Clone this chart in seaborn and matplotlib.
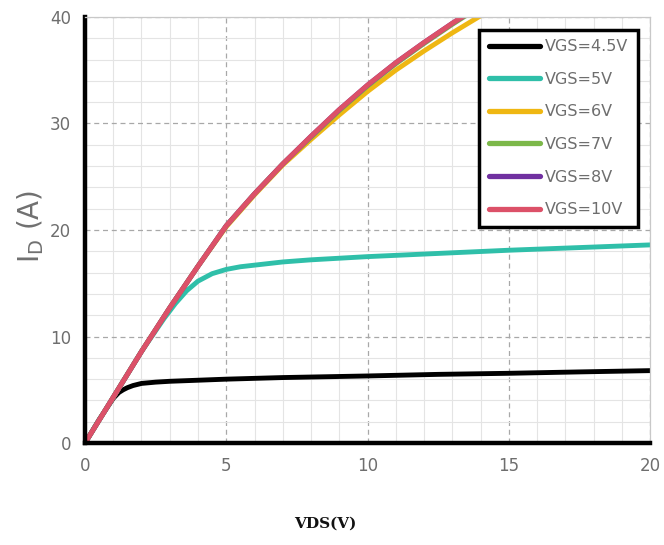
import numpy as np
import pandas as pd
import matplotlib
matplotlib.use("Agg")
import matplotlib.pyplot as plt
from matplotlib.ticker import MultipleLocator
import seaborn as sns

# Output characteristics: drain current vs drain-source voltage
vds_45 = [0, 0.5, 1.0, 1.2, 1.35, 1.5, 1.7, 2.0, 2.5, 3, 4, 5, 7, 10, 12.5, 15, 17.5, 20]
id_45 = [0, 2.2, 4.2, 4.75, 5.0, 5.2, 5.4, 5.6, 5.72, 5.8, 5.9, 6.0, 6.15, 6.3, 6.45, 6.55, 6.68, 6.8]

vds_5 = [0, 1, 2, 2.8, 3.2, 3.6, 4.0, 4.5, 5, 5.5, 6, 7, 8, 10, 12.5, 15, 17.5, 20]
id_5 = [0, 4.3, 8.6, 11.7, 13.1, 14.3, 15.2, 15.9, 16.3, 16.55, 16.7, 17.0, 17.2, 17.5, 17.8, 18.1, 18.35, 18.6]

vds_6 = [0, 1, 2, 3, 4, 5, 6, 7, 8, 9, 10, 11, 12, 13, 14, 15]
id_6 = [0, 4.3, 8.6, 12.7, 16.6, 20.3, 23.3, 26.1, 28.5, 30.8, 33.0, 35.0, 36.8, 38.5, 40.1, 41.6]

vds_7 = [0, 1, 2, 3, 4, 5, 6, 7, 8, 9, 10, 11, 12, 13, 14, 15]
id_7 = [0, 4.3, 8.6, 12.7, 16.6, 20.4, 23.4, 26.2, 28.7, 31.2, 33.5, 35.6, 37.5, 39.3, 41.0, 42.6]

vds_8 = [0, 1, 2, 3, 4, 5, 6, 7, 8, 9, 10, 11, 12, 13, 14, 15]
id_8 = [0, 4.3, 8.6, 12.7, 16.6, 20.4, 23.4, 26.2, 28.8, 31.3, 33.6, 35.7, 37.6, 39.4, 41.1, 42.7]

vds_10 = [0, 1, 2, 3, 4, 5, 6, 7, 8, 9, 10, 11, 12, 13, 14, 15]
id_10 = [0, 4.3, 8.6, 12.7, 16.6, 20.4, 23.4, 26.2, 28.8, 31.3, 33.6, 35.7, 37.6, 39.4, 41.1, 42.7]

series_labels = ["VGS=4.5V", "VGS=5V", "VGS=6V", "VGS=7V", "VGS=8V", "VGS=10V"]
series_x = [vds_45, vds_5, vds_6, vds_7, vds_8, vds_10]
series_y = [id_45, id_5, id_6, id_7, id_8, id_10]
series_colors = ["#000000", "#2fbfa9", "#efb712", "#7cb84a", "#7030a0", "#dc5168"]

x_ticks = [0, 5, 10, 15, 20]
y_ticks = [0, 10, 20, 30, 40]

frames = []
for lab, xs, ys in zip(series_labels, series_x, series_y):
    frames.append(pd.DataFrame({"VDS": xs, "ID": ys, "curve": lab}))
df = pd.concat(frames, ignore_index=True)

sns.set_theme(style="white")
plt.rcParams["font.family"] = ["DejaVu Sans"]

fig = plt.figure(figsize=(6.64, 5.45), dpi=100)
ax = fig.add_axes([0.128, 0.187, 0.851, 0.782])

sns.lineplot(data=df, x="VDS", y="ID", hue="curve", hue_order=series_labels,
             palette=dict(zip(series_labels, series_colors)), linewidth=3.5,
             sort=False, estimator=None, ax=ax, legend=True)

ax.set_xlim(0, 20)
ax.set_ylim(0, 40)
ax.set_xticks(x_ticks)
ax.set_yticks(y_ticks)
ax.xaxis.set_minor_locator(MultipleLocator(1))
ax.yaxis.set_minor_locator(MultipleLocator(2))
ax.grid(which="minor", color="#e4e4e4", linewidth=0.8, linestyle="-")
ax.grid(which="major", color="#a8a8a8", linewidth=0.9, linestyle=(0, (4, 3)))
ax.set_axisbelow(True)

for side in ["left", "bottom"]:
    ax.spines[side].set_color("black")
    ax.spines[side].set_linewidth(3.2)
for side in ["top", "right"]:
    ax.spines[side].set_color("#c8c8c8")
    ax.spines[side].set_linewidth(0.9)

ax.tick_params(which="major", direction="out", length=6, width=3, color="black",
               labelsize=12, labelcolor="#6e6e6e", pad=4)
ax.tick_params(which="minor", length=0)
ax.tick_params(axis="x", which="major", top=False)
ax.tick_params(axis="y", which="major", right=False)

ax.set_xlabel("")
ax.set_ylabel("")
fig.text(0.046, 0.585, r"I$_\mathregular{D}$ (A)", rotation=90, ha="center", va="center",
         fontsize=20, color="#707070")
fig.text(0.49, 0.04, "VDS(V)", ha="center", va="center", fontsize=11,
         fontweight="bold", family="DejaVu Serif", color="#111111")

leg = ax.legend(loc="upper right", bbox_to_anchor=(0.978, 0.97), frameon=True,
                fancybox=False, fontsize=11.5, handlelength=3.2, handletextpad=0.3,
                labelspacing=1.1, borderpad=0.6, borderaxespad=0)
leg.get_frame().set_edgecolor("black")
leg.get_frame().set_linewidth(2.5)
leg.get_frame().set_facecolor("white")
leg.get_frame().set_alpha(1)
for t in leg.get_texts():
    t.set_color("#6e6e6e")
for h in leg.get_lines():
    h.set_linewidth(3.8)

fig.savefig("out.png", dpi=100)
